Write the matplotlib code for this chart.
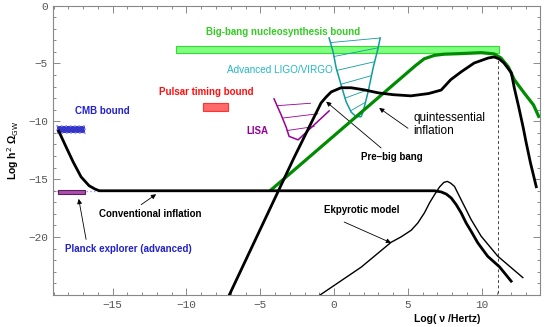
import numpy as np
import matplotlib
matplotlib.use("Agg")
import matplotlib.pyplot as plt
from matplotlib.patches import Rectangle
from matplotlib.ticker import MultipleLocator

# --- data (x = log10 frequency/Hz, y = log10 h^2 Omega_GW) ---
conv_x = [-18.65, -18.16, -17.68, -17.14, -16.6, -16.2, -15.9, 6.8, 7.25, 7.59, 7.93, 8.27, 8.6, 8.94, 9.28, 9.73, 10.4, 11.2, 11.99]
conv_y = [-10.85, -12.2, -13.5, -14.8, -15.56, -15.85, -16.0, -16.0, -16.1, -16.28, -16.62, -17.2, -17.9, -18.78, -19.5, -20.5, -21.66, -22.57, -23.81]

ekp_x = [-0.95, 1.83, 3.86, 4.54, 5.22, 5.67, 6.12, 6.46, 6.8, 7.14, 7.43, 7.66, 7.88, 8.15, 8.6, 9.28, 9.96, 11.09, 12.78]
ekp_y = [-25.0, -22.6, -20.45, -19.98, -19.41, -18.78, -17.9, -17.05, -16.34, -15.67, -15.28, -15.19, -15.33, -15.62, -16.77, -18.49, -19.93, -21.66, -23.5]

pbb_x = [-7.1, -2.7, -0.88, -0.54, -0.2, 0.47, 1.15, 2.03, 2.98, 4.0, 5.2, 6.4, 7.25, 7.9, 8.6, 9.49, 10.44, 10.84, 11.18, 11.5, 12.0, 12.2, 12.5, 12.8, 13.0, 13.3, 13.69]
pbb_y = [-25.0, -13.1, -8.4, -7.9, -7.46, -7.1, -7.1, -7.28, -7.54, -7.7, -7.8, -7.6, -7.3, -6.4, -5.73, -4.96, -4.53, -4.44, -4.61, -4.96, -5.8, -7.1, -8.75, -10.5, -11.8, -13.6, -15.65]

quint_x = [-4.34, 5.5, 6.1, 6.8, 7.45, 8.6, 9.96, 10.84, 11.3, 11.8, 12.2, 12.87, 13.5, 13.9]
quint_y = [-16.0, -5.2, -4.6, -4.3, -4.2, -4.15, -4.07, -4.18, -4.53, -5.3, -6.4, -7.55, -8.58, -9.7]

ligo_x = [-0.34, -0.07, 0.14, 0.47, 0.81, 1.15, 1.49, 1.83, 1.96, 2.30, 2.64, 2.98, 3.12]
ligo_y = [-2.8, -4.0, -5.4, -6.85, -8.3, -9.2, -9.6, -9.6, -9.18, -7.46, -5.39, -3.66, -2.8]
ligo_hatch_y = [-3.2, -4.4, -5.6, -6.8, -8.0, -9.1]

lisa_x = [-4.07, -3.59, -3.25, -3.05, -2.44, -0.34]
lisa_y = [-8.06, -9.44, -10.5, -11.3, -11.6, -9.1]
lisa_hatch = [((-3.86, -8.65), (-1.6, -8.44)),
              ((-3.5, -9.72), (-1.1, -9.35)),
              ((-3.2, -10.8), (-1.35, -10.45))]

# bounds: (x0, x1, y0, y1)
bbn_box = (-10.7, 11.15, -4.12, -3.49)
pulsar_box = (-8.9, -7.2, -9.07, -8.43)
cmb_box = (-18.75, -16.85, -11.02, -10.39)
planck_box = (-18.72, -16.85, -16.28, -15.9)
nu_cut = 11.1

fig = plt.figure(figsize=(5.45, 3.27), dpi=100)
ax = fig.add_axes([0.097, 0.098, 0.894, 0.885])
ax.set_xlim(-19.05, 13.95)
ax.set_ylim(-25, 0)

def box(b, fc, ec, ls="-", lw=0.8, z=2):
    ax.add_patch(Rectangle((b[0], b[2]), b[1] - b[0], b[3] - b[2],
                           facecolor=fc, edgecolor=ec, linestyle=ls, lw=lw, zorder=z))

box(bbn_box, "#80ff80", "#33dd33", z=1)
box(pulsar_box, "#ff6a6a", "#ff3333")
box(cmb_box, "#3535c8", "#8a8aff", ls=":", lw=1.2, z=4)
box(planck_box, "#b04cb0", "#552255", lw=0.8, z=4)
ax.plot([-19.05, -16.0], [-16.0, -16.0], ls=":", color="#9999ff", lw=1.0, zorder=1)

ax.plot([nu_cut, nu_cut], [-4.3, -25], ls=(0, (3, 2.5)), color="#444444", lw=0.7, zorder=1)

# LIGO / VIRGO
ax.plot(ligo_x, ligo_y, color="#119c9c", lw=1.1, zorder=3)
imin = int(np.argmin(ligo_y))
lx, ly = np.array(ligo_x[:imin + 1]), np.array(ligo_y[:imin + 1])
rx, ry = np.array(ligo_x[imin:]), np.array(ligo_y[imin:])
for yh in ligo_hatch_y:
    xl = np.interp(yh, ly[::-1], lx[::-1])
    yr = min(yh + 0.75, -2.8)
    xr = np.interp(yr, ry, rx)
    ax.plot([xl, xr], [yh, yr], color="#119c9c", lw=0.6, zorder=3)

# LISA
ax.plot(lisa_x, lisa_y, color="#990099", lw=1.1, zorder=3)
for (a, b) in lisa_hatch:
    ax.plot([a[0], b[0]], [a[1], b[1]], color="#990099", lw=0.6, zorder=3)

ax.plot(quint_x, quint_y, color="#008c00", lw=2.3, zorder=5, solid_capstyle="butt")
ax.plot(conv_x, conv_y, color="black", lw=2.0, zorder=6, solid_joinstyle="round")
ax.plot(pbb_x, pbb_y, color="black", lw=2.0, zorder=6, solid_joinstyle="round")
ax.plot(ekp_x, ekp_y, color="black", lw=1.0, zorder=6)

# labels
bold = dict(fontsize=7, fontweight="bold", family="Liberation Sans", ha="center", va="center")
ax.text(-3.46, -2.28, "Big-bang nucleosynthesis bound", color="#33cc22", **bold)
ax.text(-3.69, -5.56, "Advanced LIGO/VIRGO", color="#22b8c0", fontsize=7.2,
        family="Liberation Sans", ha="center", va="center")
ax.text(-8.67, -7.46, "Pulsar timing bound", color="#ff1010", **bold)
ax.text(-15.68, -9.07, "CMB bound", color="#2222cc", **bold)
ax.text(-5.18, -10.8, "LISA", color="#990099", **bold)
ax.text(3.93, -13.06, "Pre\u2013big bang", color="black", **bold)
ax.text(5.35, -10.26, "quintessential\ninflation", fontsize=8.5, family="Liberation Sans",
        ha="left", va="center", linespacing=1.15)
ax.text(-12.47, -17.97, "Conventional inflation", color="black", **bold)
ax.text(-13.96, -21.0, "Planck explorer (advanced)", color="#2222cc", **bold)
ax.text(1.9, -17.7, "Ekpyrotic model", color="black", **bold)

arrow = dict(arrowstyle="-|>", lw=0.6, color="black", mutation_scale=7, shrinkA=0, shrinkB=0)
ax.annotate("", xy=(-12.06, -16.3), xytext=(-13.07, -17.2), arrowprops=arrow)
ax.annotate("", xy=(-17.3, -16.7), xytext=(-16.8, -20.2), arrowprops=arrow)
ax.annotate("", xy=(3.86, -20.5), xytext=(0.68, -18.7), arrowprops=arrow)
ax.annotate("", xy=(-0.54, -8.3), xytext=(3.18, -12.3), arrowprops=arrow)
ax.annotate("", xy=(3.05, -8.85), xytext=(5.0, -10.6), arrowprops=arrow)

# axes styling
ax.xaxis.set_major_locator(MultipleLocator(5))
ax.xaxis.set_minor_locator(MultipleLocator(1))
ax.yaxis.set_major_locator(MultipleLocator(5))
ax.yaxis.set_minor_locator(MultipleLocator(1))
ax.tick_params(which="both", direction="in", top=True, right=True, colors="#777777",
               labelcolor="#555555", labelsize=8, width=0.6)
ax.tick_params(which="major", length=5)
ax.tick_params(which="minor", length=2.5)
ax.set_yticks([0, -5, -10, -15, -20])
for lab in ax.get_xticklabels() + ax.get_yticklabels():
    lab.set_family("Liberation Mono")
for s in ax.spines.values():
    s.set_color("#888888")
    s.set_linewidth(0.8)

fig.text(0.82, 0.025, "Log( \u03bd /Hertz)", fontsize=7.5, fontweight="bold",
         family="Liberation Sans", ha="center", va="center")
fig.text(0.024, 0.54, "Log h$^2$ \u03a9$_{\\rm GW}$", fontsize=7.5, fontweight="bold",
         family="Liberation Sans", ha="center", va="center", rotation=90)

fig.savefig("out.png", dpi=100)
